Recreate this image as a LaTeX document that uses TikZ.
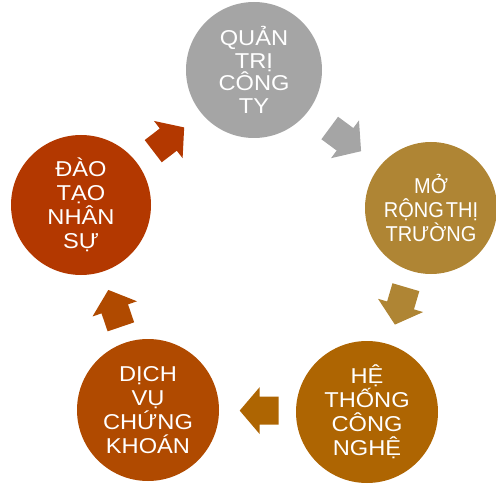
\documentclass[tikz,border=0pt]{standalone}
\usepackage{fontspec}
\setmainfont{Liberation Sans}
\newfontfamily\widefont[FakeStretch=1.1]{Liberation Sans}
\newfontfamily\narrowfont[FakeStretch=0.93]{Liberation Sans}
\definecolor{cgray}{HTML}{A5A5A5}
\definecolor{cgold}{HTML}{AF8534}
\definecolor{corange}{HTML}{AE6502}
\definecolor{cbrown}{HTML}{B04A00}
\definecolor{cred}{HTML}{B33800}
\tikzset{
  stagecircle/.style={circle, inner sep=0pt, text=white, align=center,
    font={\widefont\fontsize{21.5}{24}\selectfont}},
  blockarrow/.pic={
    \fill[pic actions] (-19.5,-14) -- (-0.5,-14) -- (-0.5,-23.5) -- (19.5,0)
      -- (-0.5,23.5) -- (-0.5,14) -- (-19.5,14) -- cycle;
  }
}
\begin{document}
\begin{tikzpicture}[x=1pt,y=1pt]
\useasboundingbox (0,0) rectangle (496,483);
\node[stagecircle, fill=cgray, minimum size=136,
      font={\widefont\fontsize{21.5}{22.5}\selectfont}] (c1) at (254,413) {QUẢN\\TRỊ\\CÔNG\\TY};
\node[stagecircle, fill=cgold, minimum size=132,
      font={\narrowfont\fontsize{21.5}{24}\selectfont\spaceskip=0.1em}] (c2) at (431,275) {MỞ\\RỘNG THỊ\\TRƯỜNG};
\node[stagecircle, fill=corange, minimum size=142] (c3) at (367,71) {HỆ\\THỐNG\\CÔNG\\NGHỆ};
\node[stagecircle, fill=cbrown, minimum size=142] (c4) at (148,73) {DỊCH\\VỤ\\CHỨNG\\KHOÁN};
\node[stagecircle, fill=cred, minimum size=140] (c5) at (81,278) {ĐÀO\\TẠO\\NHÂN\\SỰ};
\pic (a12) [fill=cgray, rotate=-36.5] at (345.4,343.4) {blockarrow};
\pic (a23) [fill=cgold, rotate=-106.4] at (400.4,177.1) {blockarrow};
\pic (a34) [fill=corange, rotate=180] at (259.2,72.4) {blockarrow};
\pic (a45) [fill=cbrown, rotate=108.8] at (114.6,174.6) {blockarrow};
\pic (a51) [fill=cred, rotate=37.5] at (168.7,343.7) {blockarrow};
\end{tikzpicture}
\end{document}
